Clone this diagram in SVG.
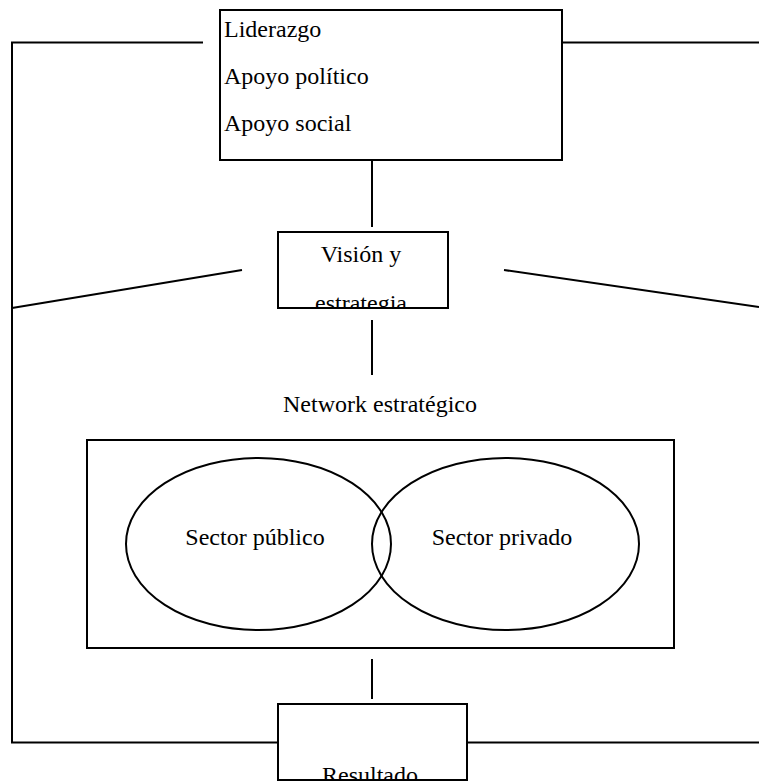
<svg xmlns="http://www.w3.org/2000/svg" width="759" height="781" viewBox="0 0 759 781">
<style>
.box{fill:#fff;stroke:#000;stroke-width:2}
.ell{fill:none;stroke:#000;stroke-width:2}
.ln{stroke:#000;stroke-width:2;fill:none}
text{font-family:"Liberation Serif","Times New Roman",serif;font-size:24px;fill:#000}
.c{text-anchor:middle}
</style>
<defs>
<clipPath id="clipVision"><rect x="278" y="232" width="170" height="76"/></clipPath>
<clipPath id="clipRes"><rect x="278" y="704" width="189" height="76"/></clipPath>
</defs>
<rect width="759" height="781" fill="#fff"/>
<g id="connectors">
<polyline class="ln" points="203,42.5 12,42.5 12,742.5 278,742.5"/>
<line class="ln" x1="562" y1="42.5" x2="759" y2="42.5"/>
<line class="ln" x1="467" y1="742.5" x2="759" y2="742.5"/>
<line class="ln" x1="242" y1="270" x2="12" y2="308"/>
<line class="ln" x1="504" y1="270" x2="759" y2="307"/>
<line class="ln" x1="372" y1="150" x2="372" y2="227"/>
<line class="ln" x1="372" y1="320" x2="372" y2="375"/>
<line class="ln" x1="372" y1="659" x2="372" y2="699"/>
</g>
<g id="liderazgo">
<rect class="box" x="220" y="10" width="342" height="150"/>
<text x="224" y="37">Liderazgo</text>
<text x="224" y="84">Apoyo político</text>
<text x="224" y="131">Apoyo social</text>
</g>
<g id="vision">
<rect class="box" x="278" y="232" width="170" height="76"/>
<g clip-path="url(#clipVision)">
<text class="c" x="361" y="262">Visión y</text>
<text class="c" x="361" y="311">estrategia</text>
</g>
</g>
<g id="network-label">
<text class="c" x="380" y="412">Network estratégico</text>
</g>
<g id="network">
<rect class="box" x="87" y="440" width="587" height="208"/>
</g>
<g id="sector-publico">
<ellipse class="ell" cx="258.5" cy="544" rx="132.5" ry="86"/>
<text class="c" x="255" y="545">Sector público</text>
</g>
<g id="sector-privado">
<ellipse class="ell" cx="505.5" cy="544" rx="133.5" ry="86"/>
<text class="c" x="502" y="545">Sector privado</text>
</g>
<g id="resultado">
<rect class="box" x="278" y="704" width="189" height="76"/>
<g clip-path="url(#clipRes)">
<text class="c" x="370" y="783">Resultado</text>
</g>
</g>
</svg>
